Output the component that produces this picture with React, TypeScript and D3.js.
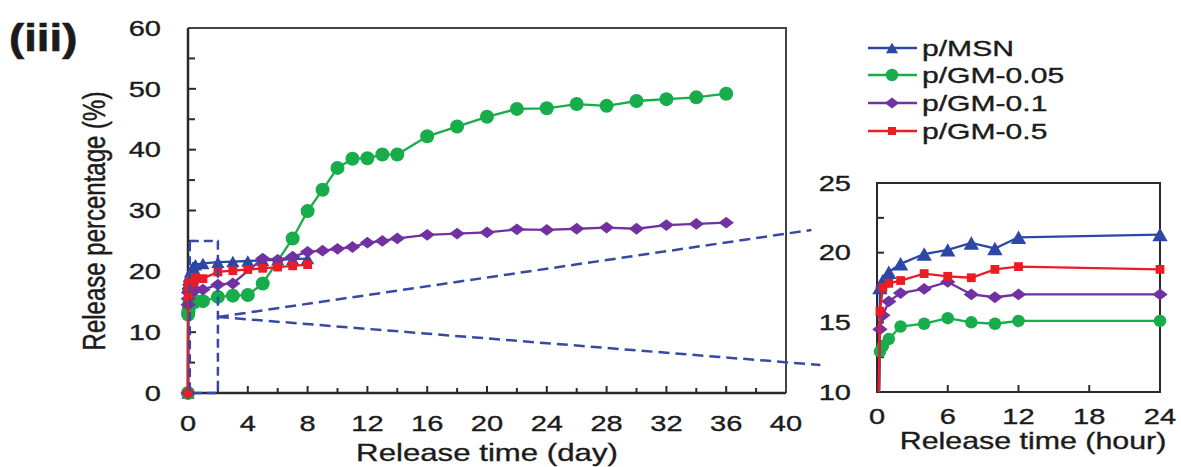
import React from "react";
import * as d3 from "d3";

// ---------- data ----------
const hours = [0, 0.25, 0.5, 1, 2, 4, 6, 8, 10, 12, 24];
const msnHour = [0, 17.5, 18.0, 18.6, 19.2, 19.9, 20.2, 20.7, 20.3, 21.1, 21.3];
const gm005Hour = [0, 12.9, 13.3, 13.8, 14.7, 14.9, 15.3, 15.0, 14.9, 15.1, 15.1];
const gm01Hour = [0, 14.5, 15.5, 16.5, 17.1, 17.4, 17.9, 17.0, 16.8, 17.0, 17.0];
const gm05Hour = [0, 15.8, 17.5, 17.8, 18.0, 18.5, 18.3, 18.2, 18.8, 19.0, 18.8];

const msnDays = [2, 3, 4, 5, 6, 7, 8];
const msnDay = [21.5, 21.6, 21.7, 21.8, 21.9, 22.0, 22.1];
const gm05Days = [2, 3, 4, 5, 6, 7, 8];
const gm05Day = [19.9, 20.1, 20.3, 20.5, 20.7, 20.9, 21.1];
const gm005Days = [2, 3, 4, 5, 7, 8, 9, 10, 11, 12, 13, 14, 16, 18, 20, 22, 24, 26, 28, 30, 32, 34, 36];
const gm005Day = [15.8, 16.0, 16.1, 18.0, 25.4, 29.9, 33.4, 37.0, 38.5, 38.6, 39.2, 39.2, 42.2, 43.8, 45.4, 46.7, 46.8, 47.5, 47.2, 48.0, 48.3, 48.6, 49.2];
const gm01Days = [2, 3, 5, 6, 7, 8, 9, 10, 11, 12, 13, 14, 16, 18, 20, 22, 24, 26, 28, 30, 32, 34, 36];
const gm01Day = [17.8, 18.0, 22.1, 21.9, 22.4, 23.2, 23.4, 23.7, 24.0, 24.7, 25.0, 25.4, 26.0, 26.2, 26.4, 26.9, 26.8, 27.0, 27.2, 27.0, 27.6, 27.8, 28.0];

const seriesNames = ["p/MSN", "p/GM-0.05", "p/GM-0.1", "p/GM-0.5"];
const seriesColors = ["#2c47a6", "#17ad4a", "#7131a1", "#ec1c24"];
const seriesShapes = ["triangle", "circle", "diamond", "square"];

const mainXTicks = [0, 4, 8, 12, 16, 20, 24, 28, 32, 36, 40];
const mainYTicks = [0, 10, 20, 30, 40, 50, 60];
const insetXTicks = [0, 6, 12, 18, 24];
const insetYTicks = [10, 15, 20, 25];

// zoom annotation (main-chart data coords)
const zoomBox = { x0: 0.12, x1: 2, y0: 0, y1: 25 };
const zoomStart = { x: 2, y: 12.5 };
const zoomEnds = [
  { x: 41.7, y: 26.8 },
  { x: 42.3, y: 4.6 },
];

// ---------- helpers ----------
const FONT = "'Liberation Sans', Arial, sans-serif";
const SX = 1.35;
const TXT = "#1b1b1b";
const AX = "#2a2a2a";

type Pt = [number, number];

function markerPath(shape: string, s: number): string {
  if (shape === "circle") {
    const r = s * 0.5;
    return `M${-r},0a${r},${r} 0 1,0 ${2 * r},0a${r},${r} 0 1,0 ${-2 * r},0Z`;
  }
  if (shape === "triangle") {
    const w = s * 0.55, h = s * 0.48;
    return `M0,${-h}L${w},${h}L${-w},${h}Z`;
  }
  if (shape === "diamond") {
    const w = s * 0.55, h = s * 0.42;
    return `M0,${-h}L${w},0L0,${h}L${-w},0Z`;
  }
  const a = s * 0.4;
  return `M${-a},${-a}H${a}V${a}H${-a}Z`;
}

function Txt(props: {
  x: number; y: number; size: number; anchor?: string; weight?: string;
  rotate?: boolean; children: React.ReactNode; sx?: number;
}) {
  const sx = props.sx ?? SX;
  const tr = props.rotate
    ? `translate(${props.x},${props.y}) rotate(-90) scale(1,${sx})`
    : `translate(${props.x},${props.y}) scale(${sx},1)`;
  return (
    <text
      transform={tr}
      fontFamily={FONT}
      fontSize={props.size}
      fontWeight={props.weight ?? "normal"}
      textAnchor={props.anchor ?? "start"}
      fill={TXT}
      stroke={TXT}
      strokeWidth={props.weight === "bold" ? 0.6 : 0.35}
    >
      {props.children}
    </text>
  );
}

export default function App() {
  // main chart scales
  const x = d3.scaleLinear().domain([0, 40]).range([188, 786]);
  const y = d3.scaleLinear().domain([0, 60]).range([393, 28]);
  // inset scales
  const xi = d3.scaleLinear().domain([0, 24]).range([877, 1160]);
  const yi = d3.scaleLinear().domain([10, 25]).range([392, 183]);

  const hourSeries = [msnHour, gm005Hour, gm01Hour, gm05Hour];
  const dayX = [msnDays, gm005Days, gm01Days, gm05Days];
  const dayY = [msnDay, gm005Day, gm01Day, gm05Day];

  const mainData: Pt[][] = hourSeries.map((hs, i) => {
    const early: Pt[] = hours.map((h, k) => [h / 24, hs[k]] as Pt);
    const later: Pt[] = dayX[i].map((d, k) => [d, dayY[i][k]] as Pt);
    return early.concat(later);
  });
  const insetData: Pt[][] = hourSeries.map((hs) => hours.map((h, k) => [h, hs[k]] as Pt));

  const mainLine = d3.line<Pt>().x((d) => x(d[0])).y((d) => y(d[1]));
  const insetLine = d3.line<Pt>().x((d) => xi(d[0])).y((d) => yi(d[1]));

  const mainSizes = [12, 14, 14, 11];
  const insetSizes = [14, 12.5, 14, 11];

  const mainMinorX = d3.range(2, 40, 4);
  const mainMinorY = d3.range(5, 60, 10);
  const insetMinorY = [12.5, 17.5, 22.5];
  const dashColor = "#3848a6";

  const legendRows = [48, 75, 103, 131];

  return (
    <svg
      width={1181}
      height={467}
      style={{ position: "absolute", left: 0, top: 0, background: "#fff" }}
    >
      <rect x={0} y={0} width={1181} height={467} fill="#ffffff" />

      {/* panel label */}
      <Txt x={9} y={51} size={38} weight="bold" sx={1.2}>(iii)</Txt>

      {/* ===== main chart ===== */}
      <g>
        {mainYTicks.map((t) => (
          <g key={"my" + t}>
            <line x1={x(0)} x2={x(0) + 8} y1={y(t)} y2={y(t)} stroke={AX} strokeWidth={2} />
            <Txt x={161} y={y(t) + 7.7} size={21.5} anchor="end">{t}</Txt>
          </g>
        ))}
        {mainMinorY.map((t) => (
          <line key={"mym" + t} x1={x(0)} x2={x(0) + 7} y1={y(t)} y2={y(t)} stroke={AX} strokeWidth={2} />
        ))}
        {mainXTicks.map((t) => (
          <g key={"mx" + t}>
            <line x1={x(t)} x2={x(t)} y1={y(0)} y2={y(0) - 7} stroke={AX} strokeWidth={2} />
            <Txt x={x(t)} y={431} size={21.5} anchor="middle">{t}</Txt>
          </g>
        ))}
        {mainMinorX.map((t) => (
          <line key={"mxm" + t} x1={x(t)} x2={x(t)} y1={y(0)} y2={y(0) - 5} stroke={AX} strokeWidth={2} />
        ))}
        <path
          d={`M${x(0)},${y(60)}H${x(40)}V${y(0)}`}
          fill="none"
          stroke="#444"
          strokeWidth={2}
        />
        <path d={`M${x(0)},${y(60)}V${y(0)}H${x(40)}`} fill="none" stroke={AX} strokeWidth={2.5} />

        <Txt x={105} y={221} size={24} anchor="middle" rotate sx={1.3}>Release percentage (%)</Txt>
        <Txt x={487} y={461} size={24} anchor="middle" sx={1.3}>Release time (day)</Txt>

        {mainData.map((pts, i) => (
          <g key={"ms" + i}>
            <path d={mainLine(pts) ?? ""} fill="none" stroke={seriesColors[i]} strokeWidth={2.3} />
            {pts.map((p, k) => (
              <path
                key={k}
                d={markerPath(seriesShapes[i], mainSizes[i])}
                transform={`translate(${x(p[0])},${y(p[1])})`}
                fill={seriesColors[i]}
              />
            ))}
          </g>
        ))}

        <rect
          x={x(zoomBox.x0)}
          y={y(zoomBox.y1)}
          width={x(zoomBox.x1) - x(zoomBox.x0)}
          height={y(zoomBox.y0) - y(zoomBox.y1)}
          fill="none"
          stroke={dashColor}
          strokeWidth={2.5}
          strokeDasharray="9,5"
        />
        {zoomEnds.map((e, i) => (
          <line
            key={"ze" + i}
            x1={x(zoomStart.x)}
            y1={y(zoomStart.y)}
            x2={x(e.x)}
            y2={y(e.y)}
            stroke={dashColor}
            strokeWidth={2.5}
            strokeDasharray="11,6"
          />
        ))}
      </g>

      {/* ===== legend ===== */}
      {seriesNames.map((n, i) => (
        <g key={"lg" + i}>
          <line x1={868} x2={917} y1={legendRows[i]} y2={legendRows[i]} stroke={seriesColors[i]} strokeWidth={2.3} />
          <path
            d={markerPath(seriesShapes[i], [11, 12.5, 13, 10][i])}
            transform={`translate(892,${legendRows[i]})`}
            fill={seriesColors[i]}
          />
          <Txt x={922} y={legendRows[i] + 7.5} size={21.5} sx={1.4}>{n}</Txt>
        </g>
      ))}

      {/* ===== inset chart ===== */}
      <defs>
        <clipPath id="insetClip">
          <rect x={xi(0) - 8} y={yi(25)} width={xi(24) - xi(0) + 16} height={yi(10) - yi(25)} />
        </clipPath>
      </defs>
      <g>
        {insetYTicks.map((t) => (
          <g key={"iy" + t}>
            <line x1={xi(0)} x2={xi(0) + 7} y1={yi(t)} y2={yi(t)} stroke={AX} strokeWidth={2} />
            <Txt x={851} y={yi(t) + 7.7} size={21.5} anchor="end">{t}</Txt>
          </g>
        ))}
        {insetMinorY.map((t) => (
          <line key={"iym" + t} x1={xi(0)} x2={xi(0) + 7} y1={yi(t)} y2={yi(t)} stroke={AX} strokeWidth={2} />
        ))}
        {insetXTicks.map((t) => (
          <g key={"ix" + t}>
            <line x1={xi(t)} x2={xi(t)} y1={yi(10)} y2={yi(10) - 7} stroke={AX} strokeWidth={2} />
            <Txt x={xi(t)} y={424} size={21.5} anchor="middle">{t}</Txt>
          </g>
        ))}
        <rect
          x={xi(0)}
          y={yi(25)}
          width={xi(24) - xi(0)}
          height={yi(10) - yi(25)}
          fill="none"
          stroke={AX}
          strokeWidth={2}
        />
        <Txt x={1033} y={449} size={23} anchor="middle" sx={1.32}>Release time (hour)</Txt>

        <g clipPath="url(#insetClip)">
          {insetData.map((pts, i) => (
            <g key={"is" + i}>
              <path d={insetLine(pts) ?? ""} fill="none" stroke={seriesColors[i]} strokeWidth={2.3} />
              {pts.map((p, k) => (
                <path
                  key={k}
                  d={markerPath(seriesShapes[i], insetSizes[i])}
                  transform={`translate(${xi(p[0])},${yi(p[1])})`}
                  fill={seriesColors[i]}
                />
              ))}
            </g>
          ))}
        </g>
      </g>
    </svg>
  );
}
